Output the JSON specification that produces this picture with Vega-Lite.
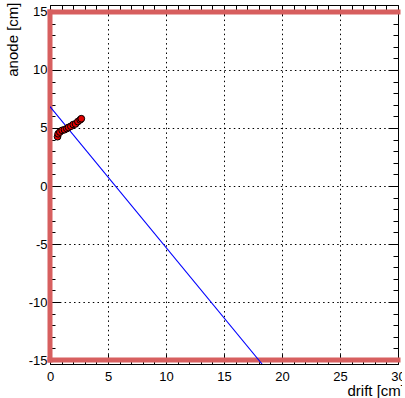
{
  "$schema": "https://vega.github.io/schema/vega-lite/v6.json",
  "width": 348,
  "height": 359,
  "autosize": {"type": "none"},
  "padding": {"left": 50, "top": 5, "right": 4, "bottom": 34},
  "background": "white",
  "config": {
    "view": {"stroke": "black", "strokeWidth": 1},
    "axis": {
      "labelFont": "Liberation Sans",
      "titleFont": "Liberation Sans",
      "labelColor": "black",
      "titleColor": "black",
      "tickColor": "black",
      "domain": false,
      "titleFontWeight": "normal",
      "zindex": 1
    }
  },
  "datasets": {
    "frame": [
      {"x": 0, "x2": 30, "y": 15, "y2": 15},
      {"x": 0, "x2": 30, "y": -15, "y2": -15},
      {"x": 0, "x2": 0, "y": -15, "y2": 15}
    ],
    "fit": [
      {"x": 0, "y": 6.85},
      {"x": 18.28, "y": -15.34}
    ],
    "hits": [
      {"x": 0.65, "y": 4.25},
      {"x": 0.7, "y": 4.5},
      {"x": 0.85, "y": 4.65},
      {"x": 1.05, "y": 4.8},
      {"x": 1.25, "y": 4.85},
      {"x": 1.45, "y": 4.95},
      {"x": 1.6, "y": 5.05},
      {"x": 1.8, "y": 5.15},
      {"x": 2.0, "y": 5.3},
      {"x": 2.2, "y": 5.35},
      {"x": 2.4, "y": 5.55},
      {"x": 2.6, "y": 5.7},
      {"x": 2.7, "y": 5.8}
    ]
  },
  "layer": [
    {
      "data": {"name": "frame"},
      "mark": {"type": "rule", "color": "#d75f5f", "strokeWidth": 5, "strokeCap": "square"},
      "encoding": {
        "x": {
          "field": "x", "type": "quantitative",
          "scale": {"domain": [0, 30], "nice": false, "zero": false},
          "axis": {
            "orient": "bottom",
            "values": [0, 5, 10, 15, 20, 25, 30],
            "labelExpr": "'' + datum.value",
            "labelFontSize": 13,
            "labelPadding": 16,
            "labelOverlap": false,
            "labelFlush": false,
            "tickSize": -10,
            "grid": true,
            "gridColor": "black",
            "gridDash": [1.5, 3.2],
            "gridOpacity": {"condition": {"test": "datum.value > 0 && datum.value < 30", "value": 1}, "value": 0},
            "title": "drift [cm]",
            "titleFontSize": 15,
            "titleAnchor": "start",
            "titleAlign": "left",
            "titleBaseline": "middle",
            "titleX": 297,
            "titleY": 26
          }
        },
        "x2": {"field": "x2"},
        "y": {
          "field": "y", "type": "quantitative",
          "scale": {"domain": [-15.34, 15.6], "nice": false, "zero": false},
          "axis": {
            "orient": "left",
            "values": [-15, -10, -5, 0, 5, 10, 15],
            "labelExpr": "'' + datum.value",
            "labelFontSize": 13,
            "labelPadding": 13,
            "labelOverlap": false,
            "labelFlush": false,
            "tickSize": -10,
            "grid": true,
            "gridColor": "black",
            "gridDash": [1.5, 3.2],
            "gridOpacity": {"condition": {"test": "abs(datum.value) < 15", "value": 1}, "value": 0},
            "title": "anode [cm]",
            "titleFontSize": 15,
            "titleAngle": -90,
            "titleAnchor": "end",
            "titleAlign": "right",
            "titleBaseline": "middle",
            "titleX": -38,
            "titleY": -3
          }
        },
        "y2": {"field": "y2"}
      }
    },
    {
      "data": {"name": "fit"},
      "mark": {"type": "line", "color": "#0000ff", "strokeWidth": 1.1, "clip": true},
      "encoding": {
        "x": {
          "field": "x", "type": "quantitative",
          "axis": {"orient": "bottom", "values": [0,1,2,3,4,5,6,7,8,9,10,11,12,13,14,15,16,17,18,19,20,21,22,23,24,25,26,27,28,29,30], "labels": false, "grid": false, "tickSize": -5, "title": null}
        },
        "y": {
          "field": "y", "type": "quantitative",
          "axis": {"orient": "left", "values": [-15,-14,-13,-12,-11,-10,-9,-8,-7,-6,-5,-4,-3,-2,-1,0,1,2,3,4,5,6,7,8,9,10,11,12,13,14,15], "labels": false, "grid": false, "tickSize": -5, "title": null}
        }
      }
    },
    {
      "data": {"name": "hits"},
      "mark": {"type": "point", "shape": "circle", "filled": true, "fill": "#e00000", "stroke": "black", "strokeWidth": 1, "size": 45, "opacity": 1},
      "encoding": {
        "x": {
          "field": "x", "type": "quantitative",
          "axis": {"orient": "top", "values": [0, 5, 10, 15, 20, 25, 30], "labels": false, "grid": false, "tickSize": -10, "title": null}
        },
        "y": {
          "field": "y", "type": "quantitative",
          "axis": {"orient": "right", "values": [-15, -10, -5, 0, 5, 10, 15], "labels": false, "grid": false, "tickSize": -10, "title": null}
        }
      }
    },
    {
      "data": {"name": "hits"},
      "mark": {"type": "point", "opacity": 0},
      "encoding": {
        "x": {
          "field": "x", "type": "quantitative",
          "axis": {"orient": "top", "values": [0,1,2,3,4,5,6,7,8,9,10,11,12,13,14,15,16,17,18,19,20,21,22,23,24,25,26,27,28,29,30], "labels": false, "grid": false, "tickSize": -5, "title": null}
        },
        "y": {
          "field": "y", "type": "quantitative",
          "axis": {"orient": "right", "values": [-15,-14,-13,-12,-11,-10,-9,-8,-7,-6,-5,-4,-3,-2,-1,0,1,2,3,4,5,6,7,8,9,10,11,12,13,14,15], "labels": false, "grid": false, "tickSize": -5, "title": null}
        }
      }
    }
  ],
  "resolve": {"axis": {"x": "independent", "y": "independent"}}
}
